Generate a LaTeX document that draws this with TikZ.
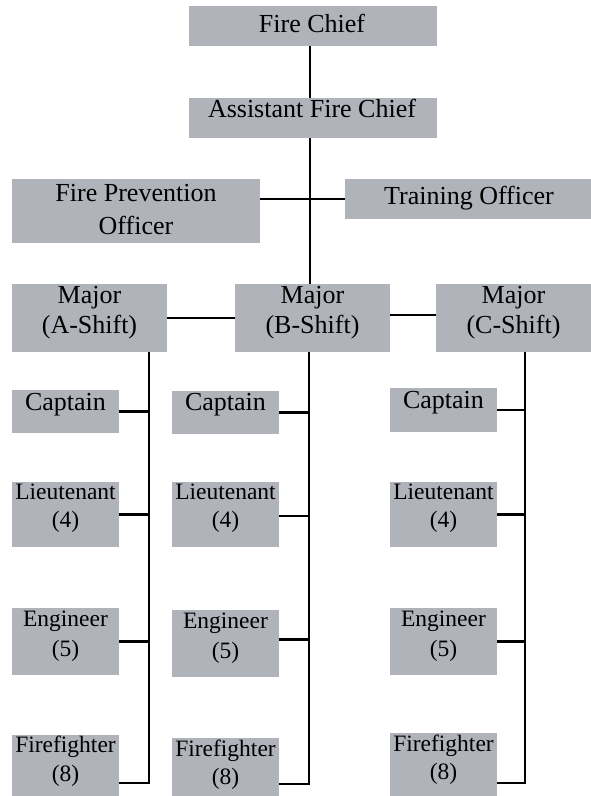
\documentclass[tikz,border=0pt]{standalone}
\usepackage{fontspec}
\setmainfont{Liberation Serif}
\usetikzlibrary{fit}
\definecolor{boxgray}{RGB}{177,179,187}
\begin{document}
\begin{tikzpicture}[x=1pt,y=-1pt,
  box/.style={fill=boxgray,draw=none,inner sep=0pt,outer sep=0pt},
  big/.style={font=\fontsize{26}{31}\selectfont,inner sep=0pt,anchor=base},
  small/.style={font=\fontsize{23.5}{28}\selectfont,inner sep=0pt,anchor=base},
  conn/.style={line width=2.6pt,draw=black}]
\useasboundingbox (0,0) rectangle (590,796);
% boxes
\node[box,fit={(189,6)(437,46)}] (chief) {};
\node[box,fit={(189,98)(437,138)}] (asst) {};
\node[box,fit={(12,179)(260,243)}] (fpo) {};
\node[box,fit={(345,179)(593,219)}] (tr) {};
\node[box,fit={(12,284)(167,352)}] (majA) {};
\node[box,fit={(235,284)(390,352)}] (majB) {};
\node[box,fit={(436,284)(591,352)}] (majC) {};
\node[box,fit={(12,390)(119,433)}] (capA) {};
\node[box,fit={(172,391)(279,434)}] (capB) {};
\node[box,fit={(390,388)(497,432)}] (capC) {};
\node[box,fit={(12,482)(119,547)}] (ltA) {};
\node[box,fit={(172,482)(279,547)}] (ltB) {};
\node[box,fit={(390,482)(497,547)}] (ltC) {};
\node[box,fit={(12,608)(119,675)}] (engA) {};
\node[box,fit={(172,610)(279,677)}] (engB) {};
\node[box,fit={(390,608)(497,675)}] (engC) {};
\node[box,fit={(12,735)(119,831)}] (ffA) {};
\node[box,fit={(172,738)(279,830)}] (ffB) {};
\node[box,fit={(390,733)(497,833)}] (ffC) {};
% texts
\node[big] (tchief) at (312,32) {Fire Chief};
\node[big] (tasst) at (312,117) {Assistant Fire Chief};
\node[big] (tfpo1) at (136,201) {Fire Prevention};
\node[big] (tfpo2) at (136,234) {Officer};
\node[big] (ttr) at (469,204) {Training Officer};
\node[big] (tmajA1) at (89.5,303) {Major};
\node[big] (tmajA2) at (89.5,333) {(A-Shift)};
\node[big] (tmajB1) at (312.5,303) {Major};
\node[big] (tmajB2) at (312.5,333) {(B-Shift)};
\node[big] (tmajC1) at (513.5,303) {Major};
\node[big] (tmajC2) at (513.5,333) {(C-Shift)};
\node[big] (tcapA) at (65.5,410) {Captain};
\node[big] (tcapB) at (225.5,410) {Captain};
\node[big] (tcapC) at (443.5,408) {Captain};
\node[small] (tltA1) at (65.5,499) {Lieutenant};
\node[small] (tltA2) at (65.5,527) {(4)};
\node[small] (tltB1) at (225.5,499) {Lieutenant};
\node[small] (tltB2) at (225.5,527) {(4)};
\node[small] (tltC1) at (443.5,499) {Lieutenant};
\node[small] (tltC2) at (443.5,527) {(4)};
\node[small] (tengA1) at (65.5,626) {Engineer};
\node[small] (tengA2) at (65.5,656) {(5)};
\node[small] (tengB1) at (225.5,628) {Engineer};
\node[small] (tengB2) at (225.5,658) {(5)};
\node[small] (tengC1) at (443.5,626) {Engineer};
\node[small] (tengC2) at (443.5,656) {(5)};
\node[small] (tffA1) at (65.5,752) {Firefighter};
\node[small] (tffA2) at (65.5,781) {(8)};
\node[small] (tffB1) at (225.5,756) {Firefighter};
\node[small] (tffB2) at (225.5,784) {(8)};
\node[small] (tffC1) at (443.5,751) {Firefighter};
\node[small] (tffC2) at (443.5,779) {(8)};
% connectors
\coordinate (sp) at (310,0);
\coordinate (cA) at (149,0);
\coordinate (cB) at (309,0);
\coordinate (cC) at (525,0);
\draw[conn] (chief.south -| sp) -- (asst.north -| sp);
\draw[conn] (asst.south -| sp) -- (majB.north -| sp);
\draw[conn] (tr.west -| fpo.east) -- (tr.west);
\draw[conn] (majA.east) -- (majA.east -| majB.west);
\draw[conn] ([yshift=3pt]majB.east) -- ([yshift=3pt]majB.east -| majC.west);
% column A
\draw[conn] (majA.south -| cA) -- (ffA.east -| cA) -- (ffA.east);
\draw[conn] (capA.east) -- (capA.east -| cA);
\draw[conn] (ltA.east) -- (ltA.east -| cA);
\draw[conn] (engA.east) -- (engA.east -| cA);
% column B
\draw[conn] (majB.south -| cB) -- (ffB.east -| cB) -- (ffB.east);
\draw[conn] (capB.east) -- (capB.east -| cB);
\draw[conn] ([yshift=-1.5pt]ltB.east) -- ([yshift=-1.5pt]ltB.east -| cB);
\draw[conn] ([yshift=4pt]engB.east) -- ([yshift=4pt]engB.east -| cB);
% column C
\draw[conn] (majC.south -| cC) -- (ffC.east -| cC) -- (ffC.east);
\draw[conn] (capC.east) -- (capC.east -| cC);
\draw[conn] (ltC.east) -- (ltC.east -| cC);
\draw[conn] (engC.east) -- (engC.east -| cC);
\end{tikzpicture}
\end{document}
